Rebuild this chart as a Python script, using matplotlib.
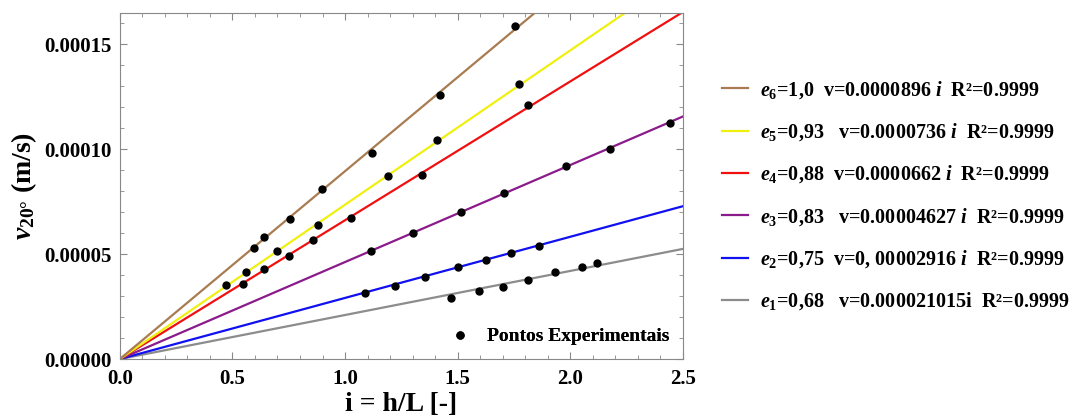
import numpy as np
import matplotlib.pyplot as plt
from matplotlib.ticker import MultipleLocator

# Fitted slopes (v = k * i), from e1 to e6
labels_e = ['1', '2', '3', '4', '5', '6']
porosity = ['0,68', '0,75', '0,83', '0,88', '0,93', '1,0']
slopes = [0.000021015, 0.00002916, 0.00004627, 0.0000662, 0.0000736, 0.0000896]
slope_text = [' v=0.000021015i', 'v=0, 00002916 $i$', ' v=0.00004627 $i$',
              'v=0.0000662 $i$', ' v=0.0000736 $i$', 'v=0.0000896 $i$']
colors = ['#8c8c8c', '#1010f0', '#8b1a8b', '#f01010', '#f0f010', '#a87c50']

x_e1 = [1.47, 1.595, 1.70, 1.81, 1.93, 2.05, 2.12]
y_e1 = [0.0000290, 0.0000324, 0.0000343, 0.0000376, 0.0000414, 0.0000438, 0.0000457]
x_e2 = [1.09, 1.22, 1.355, 1.50, 1.625, 1.736, 1.86]
y_e2 = [0.0000314, 0.0000348, 0.0000390, 0.0000438, 0.0000471, 0.0000505, 0.0000538]
x_e3 = [1.114, 1.30, 1.515, 1.706, 1.98, 2.176, 2.442]
y_e3 = [0.0000514, 0.0000600, 0.0000700, 0.0000790, 0.0000919, 0.0001000, 0.0001124]
x_e4 = [0.546, 0.64, 0.75, 0.857, 1.026, 1.34, 1.81]
y_e4 = [0.0000357, 0.0000430, 0.0000490, 0.0000567, 0.0000671, 0.0000876, 0.0001210]
x_e5 = [0.47, 0.56, 0.70, 0.88, 1.19, 1.41, 1.77]
y_e5 = [0.0000352, 0.0000414, 0.0000514, 0.0000638, 0.0000871, 0.0001043, 0.0001310]
x_e6 = [0.595, 0.64, 0.755, 0.897, 1.12, 1.42, 1.754]
y_e6 = [0.0000529, 0.0000581, 0.0000667, 0.0000810, 0.0000981, 0.0001260, 0.0001590]

xs = [x_e1, x_e2, x_e3, x_e4, x_e5, x_e6]
ys = [y_e1, y_e2, y_e3, y_e4, y_e5, y_e6]

plt.rcParams['font.family'] = 'Liberation Serif'
plt.rcParams['font.weight'] = 'bold'
plt.rcParams['mathtext.fontset'] = 'custom'
plt.rcParams['mathtext.rm'] = 'Liberation Serif:bold'
plt.rcParams['mathtext.it'] = 'Liberation Serif:italic:bold'
plt.rcParams['mathtext.bf'] = 'Liberation Serif:bold'

fig = plt.figure(figsize=(10.79, 4.19), dpi=100)
ax = fig.add_axes([0.111, 0.143, 0.522, 0.826])

xline = np.linspace(0, 2.5, 200)
handles = []
for k in range(6):
    lbl = f'$e_{labels_e[k]}$={porosity[k]}  {slope_text[k]}  R²=0.9999'
    h, = ax.plot(xline, slopes[k] * xline, color=colors[k], lw=1.6, label=lbl)
    handles.append(h)

pts = None
for k in range(6):
    pts, = ax.plot(xs[k], ys[k], 'o', color='black', ms=5, ls='none',
                   label='Pontos Experimentais')

ax.set_xlim(0, 2.5)
ax.set_ylim(0, 0.000165)
ax.xaxis.set_major_locator(MultipleLocator(0.5))
ax.xaxis.set_minor_locator(MultipleLocator(0.1))
ax.yaxis.set_major_locator(MultipleLocator(0.00005))
ax.yaxis.set_minor_locator(MultipleLocator(0.00001))
ax.yaxis.set_major_formatter(plt.FuncFormatter(lambda v, p: f'{v:.5f}'))
ax.xaxis.set_major_formatter(plt.FuncFormatter(lambda v, p: f'{v:.1f}'))
ax.tick_params(which='both', direction='in', top=True, right=True,
               colors='#888888', labelcolor='black', labelsize=15)
ax.tick_params(which='major', length=5)
ax.tick_params(which='minor', length=3)
ax.tick_params(axis='x', which='major', pad=7)
ax.tick_params(axis='y', which='major', pad=6)
for s in ax.spines.values():
    s.set_color('#888888')

ax.set_xlabel('i = h/L [-]', fontsize=20, fontweight='bold', labelpad=2)
ax.set_ylabel(r'$\mathit{v}_{\mathrm{20°}}$ (m/s)', fontsize=20, fontweight='bold', labelpad=4)

leg_pts = ax.legend([pts], ['Pontos Experimentais'], loc='lower right', frameon=False,
                    fontsize=14, handletextpad=0.4, borderaxespad=0.3)
ax.add_artist(leg_pts)

fig.legend(handles[::-1], [h.get_label() for h in handles[::-1]],
           loc='upper left', bbox_to_anchor=(0.652, 0.855), frameon=False,
           fontsize=14.5, labelspacing=1.02, handlelength=1.3, handletextpad=0.6)

fig.savefig('out.png', dpi=100)
